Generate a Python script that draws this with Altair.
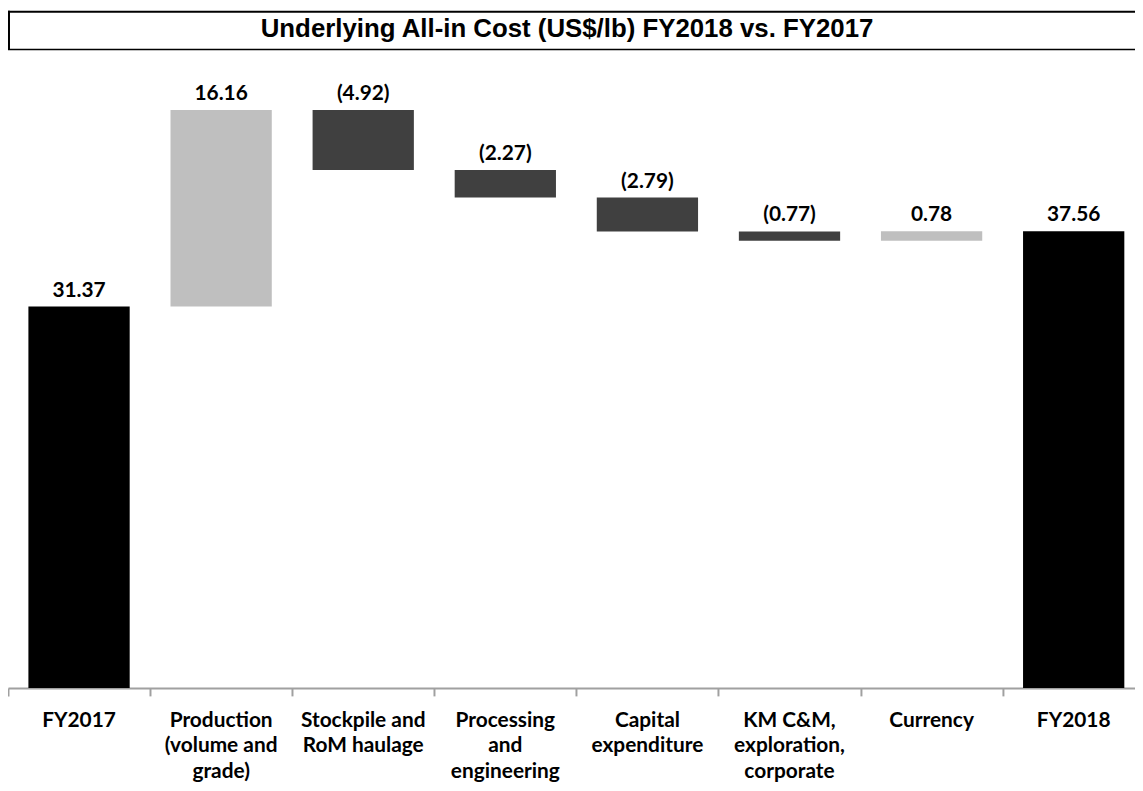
import altair as alt
import pandas as pd

categories = ["FY2017", "Production (volume and grade)", "Stockpile and RoM haulage",
              "Processing and engineering", "Capital expenditure",
              "KM C&M, exploration, corporate", "Currency", "FY2018"]
label_lines = [["FY2017"], ["Production", "(volume and", "grade)"], ["Stockpile and", "RoM haulage"],
               ["Processing", "and", "engineering"], ["Capital", "expenditure"],
               ["KM C&M,", "exploration,", "corporate"], ["Currency"], ["FY2018"]]
values = [31.37, 16.16, -4.92, -2.27, -2.79, -0.77, 0.78, 37.56]
kinds = ["total", "increase", "decrease", "decrease", "decrease", "decrease", "increase", "total"]
title_text = "Underlying All-in Cost (US$/lb) FY2018 vs. FY2017"

rows = []
running = 0.0
for i, (cat, lab, v, k) in enumerate(zip(categories, label_lines, values, kinds)):
    if k == "total":
        start, end = 0.0, v
        running = v
    else:
        start, end = running, running + v
        running = end
    txt = f"({abs(v):.2f})" if v < 0 else f"{v:.2f}"
    rows.append({"cat": cat, "pos": i + 0.5, "lines": lab, "start": start, "end": end,
                 "top": max(start, end), "kind": k, "txt": txt})
df = pd.DataFrame(rows)

PLOT_W = 1135
PLOT_H = 682
STEP = 143.1
YMAX = 55.7
XMAX = PLOT_W / STEP

xscale = alt.Scale(domain=[0, XMAX], nice=False, zero=False, padding=0)
yscale = alt.Scale(domain=[0, YMAX], nice=False, zero=True, padding=0)

bars = alt.Chart(df).mark_bar(width=102).encode(
    x=alt.X("pos:Q", scale=xscale, title=None,
            axis=alt.Axis(values=list(range(len(categories))), labels=False, title=None,
                          domainColor="#a0a0a0", domainWidth=2, tickColor="#a0a0a0",
                          tickWidth=2, tickSize=8, grid=False)),
    y=alt.Y("start:Q", scale=yscale, axis=None),
    y2="end:Q",
    color=alt.Color("kind:N", legend=None,
                    scale=alt.Scale(domain=["total", "increase", "decrease"],
                                    range=["#000000", "#bfbfbf", "#404040"])),
)

labels = alt.Chart(df).mark_text(font="Lato", fontSize=21, fontWeight="bold",
                                 baseline="alphabetic", dy=-10, color="#000000").encode(
    x=alt.X("pos:Q", scale=xscale),
    y=alt.Y("top:Q", scale=yscale),
    text="txt:N",
)

cat_labels = alt.Chart(df).mark_text(font="Lato", fontSize=21, fontWeight="bold",
                                     baseline="top", align="center", lineHeight=26,
                                     color="#000000").encode(
    x=alt.X("pos:Q", scale=xscale),
    y=alt.value(PLOT_H + 22),
    text="lines",
)

one = pd.DataFrame({"a": [0]})
box_top = alt.Chart(one).mark_rule(color="#000000", strokeWidth=2).encode(
    x=alt.value(0), x2=alt.value(1200), y=alt.value(1))
box_left = alt.Chart(one).mark_rule(color="#000000", strokeWidth=2).encode(
    x=alt.value(1), y=alt.value(0), y2=alt.value(39.5))
box_bot = alt.Chart(one).mark_rule(color="#000000", strokeWidth=1.5).encode(
    x=alt.value(0), x2=alt.value(1200), y=alt.value(39))
title = alt.Chart(one).mark_text(font="Liberation Sans", fontSize=26, fontWeight="bold",
                                 baseline="alphabetic", align="center", color="#000000").encode(
    x=alt.value(563), y=alt.value(26), text=alt.value(title_text))

chart = alt.layer(bars, labels, cat_labels, box_top, box_left, box_bot, title).properties(
    width=PLOT_W, height=PLOT_H,
    autosize=alt.AutoSizeParams(type="none"),
    padding={"left": 0, "top": 0, "right": 0, "bottom": 100},
).configure_view(stroke=None)

chart.save("out.html", embed_options={"renderer": "svg", "actions": False})
